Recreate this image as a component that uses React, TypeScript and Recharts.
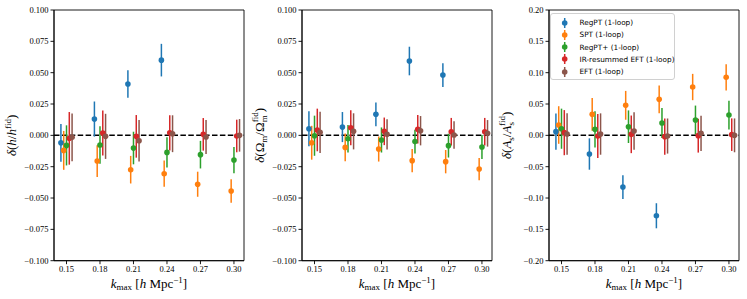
import React from 'react';
import { ScatterChart, Scatter, XAxis, YAxis, ErrorBar, ReferenceLine, ReferenceArea } from 'recharts';

const K_MAX = [0.15, 0.18, 0.21, 0.24, 0.27, 0.3];
const SERIES_NAMES = ['RegPT (1-loop)', 'SPT (1-loop)', 'RegPT+ (1-loop)', 'IR-resummed EFT (1-loop)', 'EFT (1-loop)'];
const COLORS = ['#1f77b4', '#ff7f0e', '#2ca02c', '#d62728', '#8c564b'];
const X_OFFSETS = [-0.005, -0.0025, 0, 0.0025, 0.005];
const X_DOMAIN = [0.1388, 0.309];

// Panel 1: delta(h / h_fid)
const H_REGPT = [-0.006, 0.013, 0.041, 0.06, null, null];
const H_REGPT_ERR = [0.015, 0.014, 0.011, 0.013, null, null];
const H_SPT = [-0.012, -0.0205, -0.0274, -0.0306, -0.039, -0.0444];
const H_SPT_ERR = [0.0155, 0.0127, 0.011, 0.0105, 0.01, 0.0093];
const H_REGPTP = [-0.008, -0.0077, -0.0101, -0.0136, -0.0154, -0.0197];
const H_REGPTP_ERR = [0.016, 0.015, 0.013, 0.012, 0.011, 0.0105];
const H_IREFT = [-0.0024, 0.0019, -0.0008, 0.002, 0.0008, -0.0005];
const H_IREFT_ERR = [0.021, 0.018, 0.017, 0.014, 0.013, 0.013];
const H_EFT = [-0.0016, -0.0008, -0.0043, 0.0013, -0.0013, 0.0];
const H_EFT_ERR = [0.019, 0.018, 0.0165, 0.0147, 0.0135, 0.013];

// Panel 2: delta(Omega_m / Omega_m_fid)
const OM_REGPT = [0.0053, 0.0066, 0.0168, 0.0593, 0.0481, null];
const OM_REGPT_ERR = [0.014, 0.012, 0.0095, 0.0114, 0.0095, null];
const OM_SPT = [-0.0059, -0.0096, -0.0109, -0.0202, -0.021, -0.0269];
const OM_SPT_ERR = [0.0135, 0.011, 0.01, 0.0093, 0.0093, 0.0089];
const OM_REGPTP = [-0.0003, -0.0027, -0.0037, -0.005, -0.0082, -0.0093];
const OM_REGPTP_ERR = [0.016, 0.011, 0.01, 0.0095, 0.0095, 0.0096];
const OM_IREFT = [0.0043, 0.0061, 0.0032, 0.0048, 0.0029, 0.0029];
const OM_IREFT_ERR = [0.017, 0.014, 0.011, 0.0114, 0.011, 0.011];
const OM_EFT = [0.0024, 0.0032, 0.0008, 0.0037, 0.0003, 0.0016];
const OM_EFT_ERR = [0.0165, 0.0144, 0.012, 0.0117, 0.011, 0.0106];

// Panel 3: delta(A_s / A_s_fid)
const AS_REGPT = [0.0059, -0.0298, -0.0825, -0.1283, null, null];
const AS_REGPT_ERR = [0.029, 0.025, 0.019, 0.02, null, null];
const AS_SPT = [0.0165, 0.0335, 0.0479, 0.0574, 0.0771, 0.0926];
const AS_SPT_ERR = [0.03, 0.026, 0.023, 0.022, 0.021, 0.021];
const AS_REGPTP = [0.0106, 0.0096, 0.0138, 0.0197, 0.0245, 0.0324];
const AS_REGPTP_ERR = [0.032, 0.029, 0.026, 0.024, 0.023, 0.023];
const AS_IREFT = [0.0043, -0.0011, 0.0016, -0.0021, -0.0005, 0.0011];
const AS_IREFT_ERR = [0.036, 0.035, 0.03, 0.029, 0.027, 0.026];
const AS_EFT = [0.0021, 0.0021, 0.0069, -0.0011, 0.0032, 0.0];
const AS_EFT_ERR = [0.033, 0.033, 0.03, 0.028, 0.028, 0.027];

const Y_TICKS_SMALL = [-0.1, -0.075, -0.05, -0.025, 0, 0.025, 0.05, 0.075, 0.1];
const Y_TICKS_LARGE = [-0.2, -0.15, -0.1, -0.05, 0, 0.05, 0.1, 0.15, 0.2];

const SERIF = '"Liberation Serif", "DejaVu Serif", serif';
const SANS = '"DejaVu Sans", sans-serif';

type Num = number | null;

function buildRows(values: Num[], errors: Num[], s: number) {
  const rows: { x: number; y: number; err: number }[] = [];
  K_MAX.forEach((k, i) => {
    const v = values[i];
    const e = errors[i];
    if (v !== null && e !== null) rows.push({ x: k + X_OFFSETS[s], y: v, err: e });
  });
  return rows;
}

const fmt = (d: number) => (v: number) => {
  const s = Math.abs(v).toFixed(d);
  return v < -1e-12 ? '\u2212' + s : s;
};

function XLabel(props: any) {
  const vb = props.viewBox || {};
  const cx = vb.x + vb.width / 2;
  const cy = vb.y + 27;
  return (
    <text x={cx} y={cy} textAnchor="middle" fontFamily={SERIF} fontSize={13} fill="#000">
      <tspan fontStyle="italic">k</tspan>
      <tspan fontSize={9} dy={2.5}>max</tspan>
      <tspan dy={-2.5}> [</tspan>
      <tspan fontStyle="italic">h</tspan>
      <tspan> Mpc</tspan>
      <tspan fontSize={9} dy={-5}>{'\u2212'}1</tspan>
      <tspan dy={5}>]</tspan>
    </text>
  );
}

function makeYLabel(kind: 'h' | 'om' | 'as') {
  return function YLabel(props: any) {
    const vb = props.viewBox || {};
    const cx = vb.x + 16;
    const cy = vb.y + vb.height / 2;
    let body: React.ReactNode;
    if (kind === 'h') {
      body = (
        <>
          <tspan fontStyle="italic">δ</tspan>
          <tspan>(</tspan>
          <tspan fontStyle="italic">h</tspan>
          <tspan>/</tspan>
          <tspan fontStyle="italic">h</tspan>
          <tspan fontSize={9} dy={-5}>fid</tspan>
          <tspan dy={5}>)</tspan>
        </>
      );
    } else if (kind === 'om') {
      body = (
        <>
          <tspan fontStyle="italic">δ</tspan>
          <tspan>(Ω</tspan>
          <tspan fontSize={9} dy={3}>m</tspan>
          <tspan dy={-3}>/Ω</tspan>
          <tspan fontSize={9} dy={3}>m</tspan>
          <tspan fontSize={9} dx={-7} dy={-8.5}>fid</tspan>
          <tspan dy={5.5}>)</tspan>
        </>
      );
    } else {
      body = (
        <>
          <tspan fontStyle="italic">δ</tspan>
          <tspan>(</tspan>
          <tspan fontStyle="italic">A</tspan>
          <tspan fontSize={9} dy={3}>s</tspan>
          <tspan dy={-3}>/</tspan>
          <tspan fontStyle="italic">A</tspan>
          <tspan fontSize={9} dy={3}>s</tspan>
          <tspan fontSize={9} dx={-4} dy={-8.5}>fid</tspan>
          <tspan dy={5.5}>)</tspan>
        </>
      );
    }
    return (
      <text
        x={cx}
        y={cy}
        textAnchor="middle"
        transform={`rotate(-90 ${cx} ${cy})`}
        fontFamily={SERIF}
        fontSize={13}
        fill="#000"
      >
        {body}
      </text>
    );
  };
}

const dot = (color: string) => (p: any) => <circle cx={p.cx} cy={p.cy} r={2.8} fill={color} stroke="none" />;

type PanelProps = {
  left: number;
  series: [Num[], Num[]][];
  yDomain: number[];
  yTicks: number[];
  yDecimals: number;
  kind: 'h' | 'om' | 'as';
};

function Panel({ left, series, yDomain, yTicks, yDecimals, kind }: PanelProps) {
  const YLabel = makeYLabel(kind);
  return (
    <div style={{ position: 'absolute', left, top: 0 }}>
      <ScatterChart width={250} height={299} margin={{ top: 10, right: 6, bottom: 8.3, left: 0 }}>
        <XAxis
          type="number"
          dataKey="x"
          domain={X_DOMAIN}
          ticks={K_MAX}
          allowDataOverflow
          tickFormatter={fmt(2)}
          height={30}
          tickSize={3.5}
          tickMargin={2}
          axisLine={{ stroke: '#000', strokeWidth: 0.9 }}
          tickLine={{ stroke: '#000', strokeWidth: 0.9 }}
          tick={{ fontFamily: SERIF, fontSize: 8.5, fill: '#000' }}
          label={<XLabel />}
        />
        <YAxis
          type="number"
          dataKey="y"
          domain={yDomain}
          ticks={yTicks}
          allowDataOverflow
          tickFormatter={fmt(yDecimals)}
          width={54}
          tickSize={3.5}
          tickMargin={2}
          axisLine={{ stroke: '#000', strokeWidth: 0.9 }}
          tickLine={{ stroke: '#000', strokeWidth: 0.9 }}
          tick={{ fontFamily: SERIF, fontSize: 8.5, fill: '#000' }}
          label={<YLabel />}
        />
        <ReferenceArea
          x1={X_DOMAIN[0]}
          x2={X_DOMAIN[1]}
          y1={yDomain[0]}
          y2={yDomain[1]}
          fill="none"
          stroke="#000"
          strokeWidth={0.9}
          fillOpacity={0}
        />
        <ReferenceLine y={0} stroke="#000" strokeWidth={1.5} strokeDasharray="5.5 2.4" />
        {series.map(([vals, errs], s) => (
          <Scatter
            key={s}
            name={SERIES_NAMES[s]}
            data={buildRows(vals, errs, s)}
            fill={COLORS[s]}
            isAnimationActive={false}
            shape={dot(COLORS[s])}
          >
            <ErrorBar dataKey="err" direction="y" width={0} stroke={COLORS[s]} strokeWidth={1.5} isAnimationActive={false} />
          </Scatter>
        ))}
      </ScatterChart>
    </div>
  );
}

function LegendBox() {
  return (
    <div
      style={{
        position: 'absolute',
        left: 550,
        top: 13,
        width: 125,
        height: 67,
        boxSizing: 'border-box',
        border: '1px solid #d0d0d0',
        borderRadius: 3,
        background: 'rgba(255,255,255,0.85)',
        fontFamily: SANS,
        fontSize: 7.3,
        color: '#000',
      }}
    >
      {SERIES_NAMES.map((name, i) => (
        <div
          key={name}
          style={{ position: 'absolute', left: 0, top: 2.5 + i * 12.3, height: 12, display: 'flex', alignItems: 'center' }}
        >
          <svg width={26} height={12} style={{ display: 'block' }}>
            <line x1={13.7} x2={13.7} y1={1} y2={11} stroke={COLORS[i]} strokeWidth={1.5} />
            <circle cx={13.7} cy={6} r={2.8} fill={COLORS[i]} />
          </svg>
          <span style={{ marginLeft: 2.5, whiteSpace: 'nowrap' }}>{name}</span>
        </div>
      ))}
    </div>
  );
}

export default function App() {
  const hSeries: [Num[], Num[]][] = [
    [H_REGPT, H_REGPT_ERR],
    [H_SPT, H_SPT_ERR],
    [H_REGPTP, H_REGPTP_ERR],
    [H_IREFT, H_IREFT_ERR],
    [H_EFT, H_EFT_ERR],
  ];
  const omSeries: [Num[], Num[]][] = [
    [OM_REGPT, OM_REGPT_ERR],
    [OM_SPT, OM_SPT_ERR],
    [OM_REGPTP, OM_REGPTP_ERR],
    [OM_IREFT, OM_IREFT_ERR],
    [OM_EFT, OM_EFT_ERR],
  ];
  const asSeries: [Num[], Num[]][] = [
    [AS_REGPT, AS_REGPT_ERR],
    [AS_SPT, AS_SPT_ERR],
    [AS_REGPTP, AS_REGPTP_ERR],
    [AS_IREFT, AS_IREFT_ERR],
    [AS_EFT, AS_EFT_ERR],
  ];
  return (
    <div style={{ position: 'absolute', left: 0, top: 0, width: 747, height: 299, background: '#fff', overflow: 'hidden' }}>
      <Panel left={0} series={hSeries} yDomain={[-0.1, 0.1]} yTicks={Y_TICKS_SMALL} yDecimals={3} kind="h" />
      <Panel left={248} series={omSeries} yDomain={[-0.1, 0.1]} yTicks={Y_TICKS_SMALL} yDecimals={3} kind="om" />
      <Panel left={495} series={asSeries} yDomain={[-0.2, 0.2]} yTicks={Y_TICKS_LARGE} yDecimals={2} kind="as" />
      <LegendBox />
    </div>
  );
}
